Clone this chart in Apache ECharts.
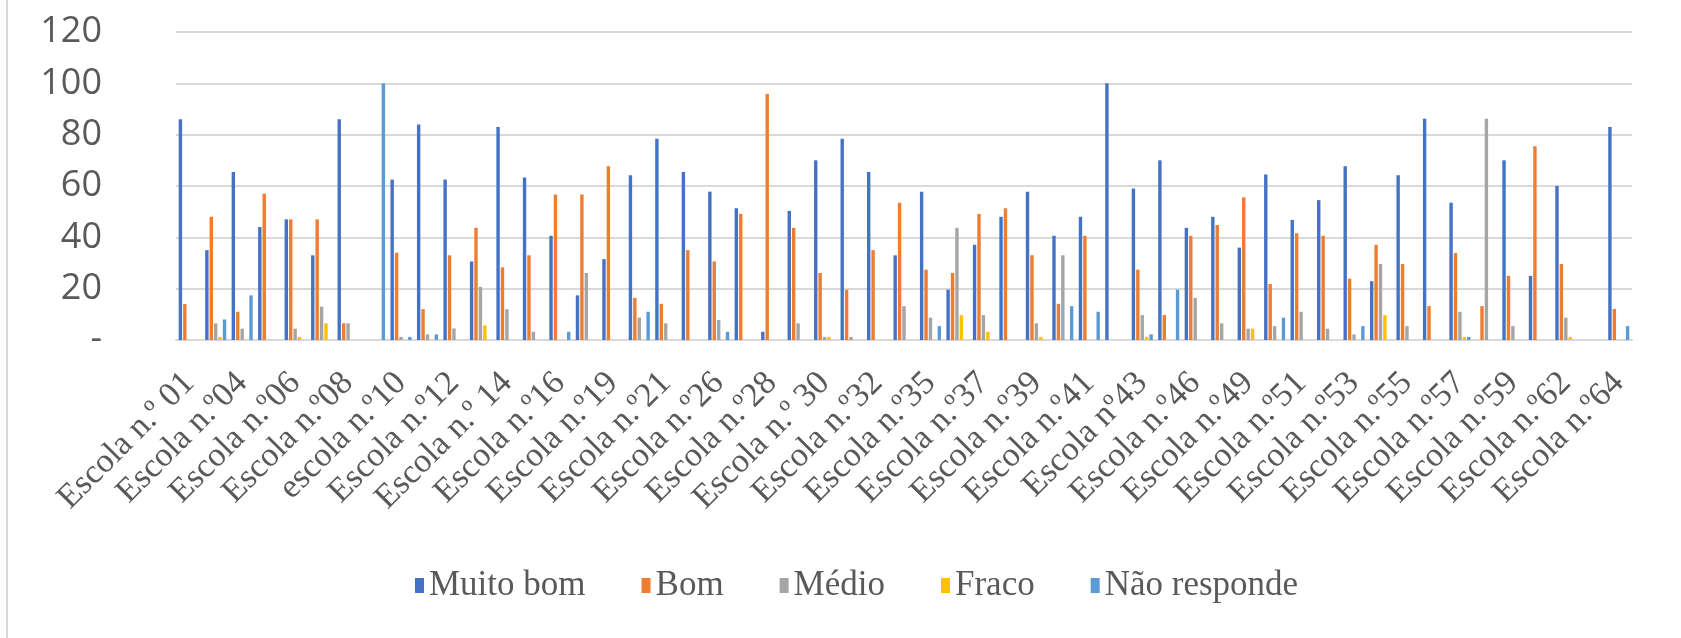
<!DOCTYPE html>
<html><head><meta charset="utf-8">
<script src="https://cdn.jsdelivr.net/npm/echarts@6/dist/echarts.min.js"></script>
<style>html,body{margin:0;padding:0;background:#fff}#c{position:absolute;left:0;top:0;width:1681px;height:638px}#b{position:absolute;left:6px;top:0;width:2px;height:638px;background:#d9d9d9}</style>
</head><body><div id="c"></div><div id="b"></div>
<script>
const categories = ['Escola n.º 01','Escola n.º02','Escola n.º04','Escola n.º05','Escola n.º06','Escola n.º07','Escola n.º08','Escola n.º09','escola n.º10','Escola n.º11','Escola n.º12','Escola n.º13','Escola n.º 14','Escola n.º15','Escola n.º16','Escola n.º18','Escola n.º19','Escola n.º20','Escola n.º21','Escola n.º24','Escola n.º26','Escola n.º27','Escola n.º28','Escola n.º29','Escola n.º 30','Escola n.º31','Escola n.º32','Escola n.º34','Escola n.º35','Escola n.º36','Escola n.º37','Escola n.º38','Escola n.º39','Escola n.º40','Escola n.º41','Escola n.º42','Escola nº43','Escola n.º45','Escola n.º46','Escola n.º48','Escola n.º49','Escola n.º50','Escola n.º51','Escola n.º52','Escola n.º53','Escola n.º54','Escola n.º55','Escola n.º56','Escola n.º57','Escola n.º58','Escola n.º59','Escola n.º61','Escola n.º62','Escola n.º63','Escola n.º64'];
const seriesNames = ['Muito bom','Bom','Médio','Fraco','Não responde'];
const muitoBom = [86,35,65.5,44,47,33,86,0,62.5,84,62.5,30.6,83,63.3,40.6,17.4,31.5,64.2,78.4,65.5,57.8,51.3,3.2,50.3,70,78.4,65.5,33,57.8,19.6,37.1,48,57.8,40.6,48,100,59,70,43.7,48,36,64.5,46.8,54.5,67.7,22.9,64.2,86.2,53.5,0,70,25,60,0,83];
const bom = [14,48,11,57,47,47,6.5,0,34,12,33,43.7,28.3,33,56.7,56.7,67.7,16.4,14.1,35,30.6,49.1,95.9,43.7,26.1,19.6,35,53.5,27.4,26.1,49.1,51.3,33,14.1,40.6,0,27.4,9.7,40.6,44.8,55.6,21.8,41.6,40.6,23.9,37.1,29.6,13.2,33.9,13.2,25,75.5,29.6,0,12.1];
const medio = [0,6.5,4.4,0,4.4,13,6.5,0,1.2,2.2,4.5,20.7,12,3.2,0,26.1,0,8.7,6.5,0,7.8,0,0,6.5,1.2,1.2,0,13.2,8.7,43.7,9.7,0,6.5,33,0,0,9.7,0,16.4,6.5,4.4,5.4,11,4.4,2.2,29.6,5.4,0,11,86.2,5.4,0,8.7,0,0];
const fraco = [0,1.2,0,0,1.2,6.5,0,0,0,0,0,5.7,0,0,0,0,0,0,0,0,0,0,0,0,1.2,0,0,0,0,9.7,3.2,0,1.2,0,0,0,1.2,0,0,0,4.4,0,0,0,0,9.7,0,0,1.2,0,0,0,1.2,0,0];
const naoResponde = [0,8,17.4,0,0,0,0,100,1.2,2.2,0,0,0,0,3.2,0,0,11,0,0,3.2,0,0,0,0,0,0,0,5.4,0,0,0,0,13.2,11,0,2.2,19.6,0,0,0,8.7,0,0,5.4,0,0,0,1.2,0,0,0,0,0,5.4];
const yTicks = [0,20,40,60,80,100,120];
const colors = ['#4472C4','#ED7D31','#A5A5A5','#FFC000','#5B9BD5'];
const values = [muitoBom,bom,medio,fraco,naoResponde];

const chart = echarts.init(document.getElementById('c'));
chart.setOption({
  animation:false,
  color:colors,
  grid:{left:176,right:49,top:32,bottom:298,containLabel:false},
  legend:{
    data:seriesNames, top:563, left:410, icon:'rect', itemWidth:9, itemHeight:15, itemGap:56,
    textStyle:{fontFamily:'Liberation Serif', fontSize:35, color:'#595959'}
  },
  xAxis:{
    type:'category', data:categories,
    axisTick:{show:false},
    axisLine:{lineStyle:{color:'#d9d9d9',width:2}},
    axisLabel:{interval:1, rotate:45, margin:38, fontFamily:'Liberation Serif', fontSize:34, color:'#595959'}
  },
  yAxis:{
    type:'value', min:yTicks[0], max:yTicks[yTicks.length-1], interval:20,
    axisLine:{show:false}, axisTick:{show:false},
    splitLine:{lineStyle:{color:'#d9d9d9',width:2}},
    axisLabel:{margin:74, fontFamily:'Open Sans', fontSize:36, color:'#595959', formatter:v=>v===0?'-':String(v)}
  },
  series: seriesNames.map((n,i)=>({name:n, type:'bar', data:values[i], barWidth:3.4, barGap:'30%'}))
});
</script></body></html>
